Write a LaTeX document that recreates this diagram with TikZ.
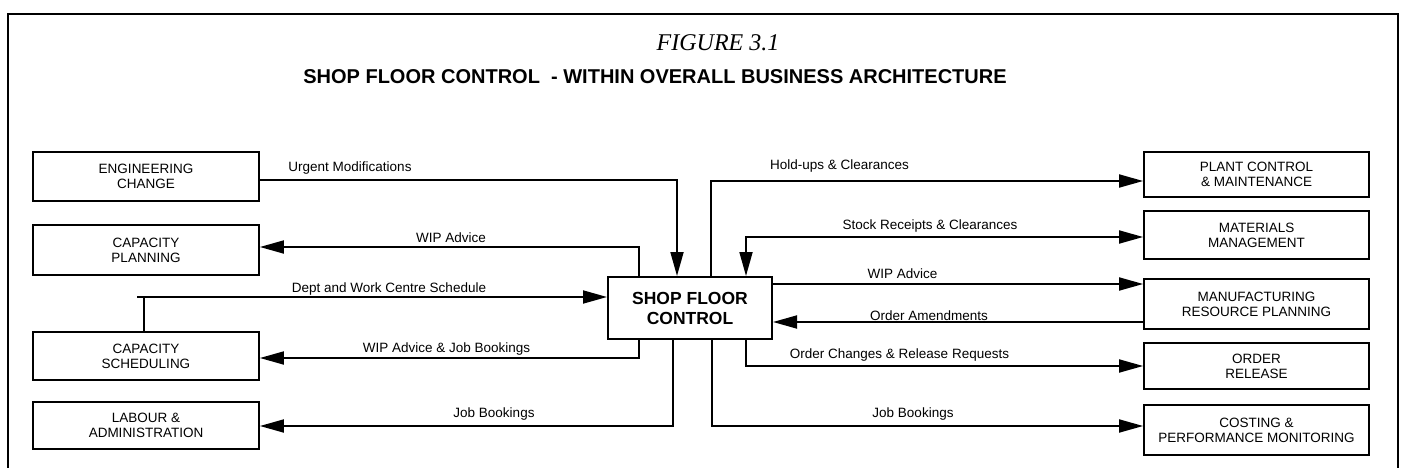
\documentclass[tikz,border=0pt]{standalone}
\usepackage{fontspec}
\setmainfont{Liberation Sans}
\newfontfamily\figfont{Liberation Serif}
\usetikzlibrary{arrows.meta}
\begin{document}
\begin{tikzpicture}[x=1pt,y=-1pt,
  box/.style={draw, line width=1.8pt, minimum width=226pt, inner sep=0pt, align=center, font=\fontsize{13.5}{15}\selectfont},
  rbox/.style={box, minimum width=225pt},
  sfcbox/.style={draw, line width=2pt, inner sep=0pt, align=center, font=\bfseries\fontsize{17.5}{20}\selectfont},
  conn/.style={line width=1.8pt},
  tip/.tip={Triangle[length=24pt,width=13pt]},
  arr/.style={conn, -tip},
  lbl/.style={anchor=base, inner sep=0pt, font=\fontsize{13.5}{15}\selectfont}]
\useasboundingbox (0,0) rectangle (1402,468);
% frame
\draw[line width=1.8pt] (8,472) -- (8,14) -- (1398,14) -- (1398,472);
% titles
\node[anchor=base, inner sep=0pt, font=\figfont\itshape\fontsize{24}{26}\selectfont] (fig) at (718,51) {FIGURE 3.1};
\node[anchor=base, inner sep=0pt, font=\bfseries\fontsize{20}{22}\selectfont] (title) at (655,84) {SHOP FLOOR CONTROL \ - WITHIN OVERALL BUSINESS ARCHITECTURE};
% left boxes
\node[box, minimum height=49pt] (eng) at (146,176.5) {ENGINEERING\\CHANGE};
\node[box, minimum height=50pt] (cplan) at (146,250) {CAPACITY\\PLANNING};
\node[box, minimum height=48pt] (csched) at (146,356) {CAPACITY\\SCHEDULING};
\node[box, minimum height=47pt] (labour) at (146,425.5) {LABOUR \&\\ADMINISTRATION};
% centre
\node[sfcbox, minimum width=164pt, minimum height=62pt] (sfc) at (690,308) {SHOP FLOOR\\CONTROL};
% right boxes
\node[rbox, minimum height=45pt] (plant) at (1256.5,174.5) {PLANT CONTROL\\\& MAINTENANCE};
\node[rbox, minimum height=48pt] (mat) at (1256.5,235) {MATERIALS\\MANAGEMENT};
\node[rbox, minimum height=50pt] (mrp) at (1256.5,304) {MANUFACTURING\\RESOURCE PLANNING};
\node[rbox, minimum height=46pt] (orel) at (1256.5,366) {ORDER\\RELEASE};
\node[rbox, minimum height=50pt] (cost) at (1256.5,430) {COSTING \&\\PERFORMANCE MONITORING};
% connectors left
\draw[arr] (eng.east |- 0,180) -| (sfc.north -| 677,0);
\draw[arr] (sfc.north -| 639,0) |- (cplan.east |- 0,247);
\coordinate (dstart) at (137,297);
\coordinate (dcorner) at (144,297);
\draw[conn] (csched.north -| dcorner) -- (dcorner);
\draw[arr] (dstart) -- (sfc.west |- dstart);
\draw[arr] (sfc.south -| 639,0) |- (csched.east |- 0,358);
\draw[arr] (sfc.south -| 673,0) |- (labour.east |- 0,426);
% connectors right
\draw[arr] (sfc.north -| 711,0) |- (plant.west |- 0,181);
\draw[conn, tip-tip] (sfc.north -| 746,0) |- (mat.west |- 0,237);
\draw[arr] (sfc.east |- 0,284) -- (mrp.west |- 0,284);
\draw[arr] (mrp.west |- 0,322) -- (sfc.east |- 0,322);
\draw[arr] (sfc.south -| 746,0) |- (orel.west |- 0,366);
\draw[arr] (sfc.south -| 712,0) |- (cost.west |- 0,426);
% labels
\node[lbl] (l1) at (350,171) {Urgent Modifications};
\node[lbl] (l2) at (451,242) {WIP Advice};
\node[lbl] (l3) at (389,292) {Dept and Work Centre Schedule};
\node[lbl] (l4) at (446.5,352) {WIP Advice \& Job Bookings};
\node[lbl] (l5) at (494,417) {Job Bookings};
\node[lbl] (r1) at (839.5,169) {Hold-ups \& Clearances};
\node[lbl] (r2) at (930,229) {Stock Receipts \& Clearances};
\node[lbl] (r3) at (902.5,278) {WIP Advice};
\node[lbl] (r4) at (929,320) {Order Amendments};
\node[lbl] (r5) at (899.5,358) {Order Changes \& Release Requests};
\node[lbl] (r6) at (913,417) {Job Bookings};
\end{tikzpicture}
\end{document}
